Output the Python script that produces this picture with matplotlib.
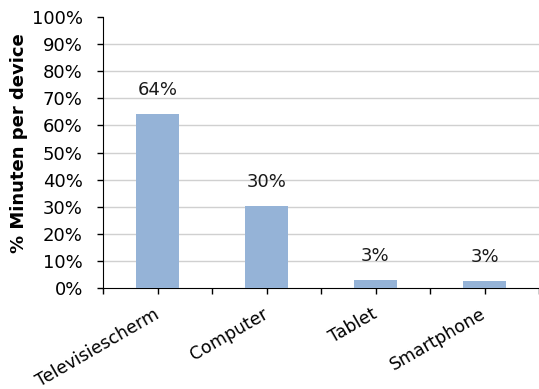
import matplotlib
matplotlib.use("Agg")
import matplotlib.pyplot as plt
import matplotlib.transforms as mtransforms
import numpy as np

categories = ["Televisiescherm", "Computer", "Tablet", "Smartphone"]
minutes_share = [64.2, 30.3, 3.0, 2.7]
y_ticks = [0, 10, 20, 30, 40, 50, 60, 70, 80, 90, 100]

plt.rcParams["font.family"] = ["DejaVu Sans"]

fig = plt.figure(figsize=(5.39, 3.89), dpi=100)
ax = fig.add_axes([103 / 539, 101 / 389, 436 / 539, 271 / 389])

x = np.arange(len(categories))
bars = ax.bar(x, minutes_share, width=0.4, color="#95B3D7", zorder=3)

for xi, v in zip(x, minutes_share):
    ax.text(xi, v + 5.5, f"{v:.0f}%", ha="center", va="bottom", fontsize=13, color="#1a1a1a")

ax.set_xlim(-0.5, 3.5)
ax.set_ylim(0, 100)
ax.set_yticks(y_ticks)
ax.set_yticklabels([f"{t}%" for t in y_ticks], fontsize=13)
ax.set_xticks(x)
ax.set_xticklabels(categories, fontsize=12.5, rotation=30, ha="right", va="center",
                   rotation_mode="anchor")
shift = mtransforms.ScaledTranslation(-3 / 100, 0, fig.dpi_scale_trans)
for lbl in ax.get_xticklabels():
    lbl.set_transform(lbl.get_transform() + shift)
ax.set_xticks(np.arange(-0.5, len(categories), 1.0), minor=True)
ax.tick_params(axis="x", which="both", direction="out", length=4, width=1, color="black")
ax.tick_params(axis="y", direction="out", length=4, width=1, color="black", pad=10.5)
ax.tick_params(axis="x", which="major", pad=14)

ax.yaxis.grid(True, color="#d0d0d0", linewidth=1, zorder=0)
gl = ax.get_ygridlines()
gl[-1].set_visible(False)
gl[0].set_visible(False)

for s in ["top", "right"]:
    ax.spines[s].set_visible(False)
ax.spines["left"].set_color("black")
ax.spines["bottom"].set_color("black")

ax.set_ylabel("% Minuten per device", fontsize=13, fontweight="bold")
ax.yaxis.set_label_coords(-0.172, 0.535)

fig.savefig("out.png", dpi=100)
